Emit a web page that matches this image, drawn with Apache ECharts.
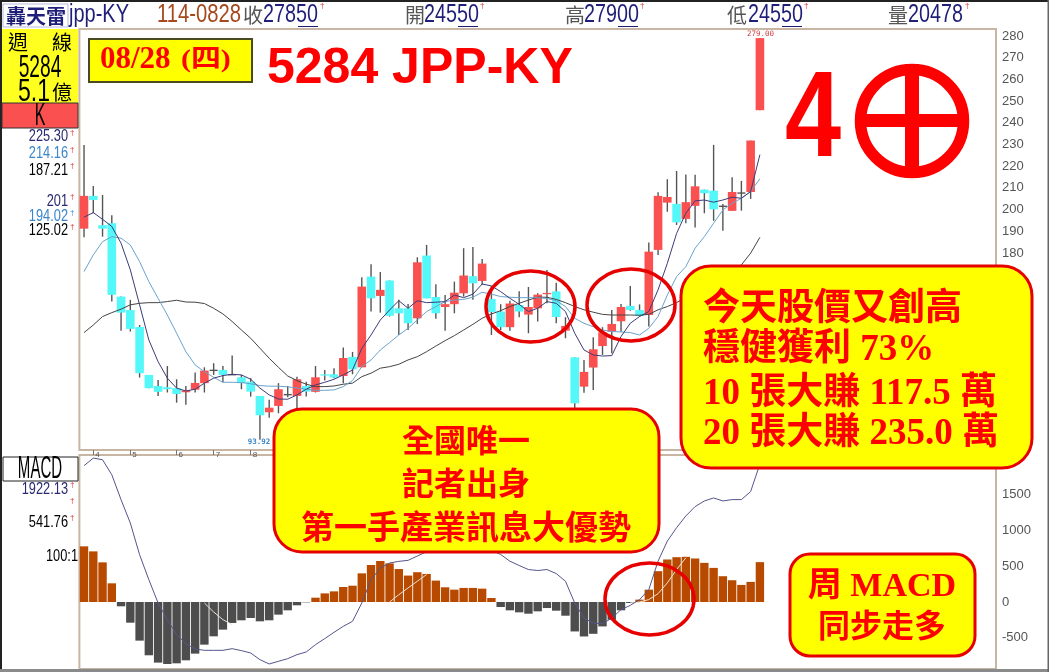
<!DOCTYPE html>
<html><head><meta charset="utf-8">
<style>html,body{margin:0;padding:0;background:#fff}#c{width:1050px;height:672px}</style>
<script src="https://cdn.jsdelivr.net/npm/echarts@6/dist/echarts.min.js"></script>
</head><body><div id="c"></div>
<script>
const slots = 99;
const monthTicks = {1:'4',5:'5',10:'6',14:'7',18:'8'};
const priceTicks = [180,190,200,210,220,230,240,250,260,270,280];
const macdTicks = [-500,0,500,1000,1500];
const opens = [191.2,206.3,192.8,193.7,159.9,153.7,145.9,123.8,118.7,118.1,117.7,115.8,117.0,120.0,125.8,126.1,124.0,122.7,120.7,114.1,106.6,109.5,114.6,114.1,118.7,116.0,124.1,124.1,123.3,132.1,127.3,169.1,160.2,167.3,154.5,154.5,149.9,178.8,159.7,155.1,156.4,161.4,169.3,167.1,158.8,153.0,145.8,156.0,151.6,154.5,161.0,162.3,144.2,131.9,118.4,127.2,137.1,143.7,148.5,155.6,153.7,151.4,181.4,203.2,202.6,195.7,201.7,209.2,208.7,201.4,199.4,207.5,208.1,245.8];
const closes = [206.3,204.4,191.2,160.7,152.5,145.0,124.6,117.7,116.0,117.2,115.0,116.7,120.1,125.8,125.9,123.8,123.9,120.0,116.1,105.2,108.7,117.2,114.7,121.8,116.1,122.7,123.5,122.6,131.6,126.4,164.5,159.1,163.0,151.0,152.2,147.6,175.7,159.1,152.2,156.4,161.7,169.6,166.0,175.1,152.8,145.8,156.7,153.0,155.1,160.8,161.6,150.5,146.4,110.7,125.2,135.6,143.4,147.3,155.1,153.7,151.0,180.6,206.3,205.8,194.1,203.4,210.7,207.5,200.1,201.5,208.1,207.6,231.8,279.0];
const highs = [229.8,210.9,206.7,197.4,159.9,158.4,146.8,123.8,121.5,127.9,121.8,118.7,124.9,127.3,129.2,127.9,132.7,123.8,122.3,114.1,112.3,120.0,118.7,123.0,120.7,127.9,126.1,126.9,136.4,134.4,168.8,174.8,171.2,167.3,158.4,156.5,178.0,183.7,165.6,160.6,166.8,182.2,182.8,177.2,164.8,156.4,158.0,162.3,164.3,161.4,172.2,166.3,150.4,131.9,130.7,141.1,145.8,153.7,156.5,164.8,156.3,184.8,208.0,214.0,217.8,216.1,216.0,209.2,229.8,202.6,214.9,213.2,231.8,279.0];
const lows = [187.2,198.3,187.5,157.6,144.2,143.8,122.6,117.7,114.1,115.7,111.0,110.1,115.7,115.7,123.8,120.4,123.8,117.2,113.8,93.92,104.1,106.1,113.5,108.4,113.8,115.7,121.2,122.3,120.0,124.1,127.3,153.0,152.5,150.7,142.2,144.5,147.3,159.1,149.7,144.2,152.2,159.9,158.4,165.3,142.2,144.5,144.1,150.4,143.0,148.4,156.8,147.6,140.7,108.4,115.6,116.9,133.0,133.8,143.7,153.4,150.7,146.1,179.1,199.0,192.9,193.7,191.7,198.3,194.8,190.2,199.4,199.5,204.9,245.8];
const maFast = [196.5,198.6,195.5,192.2,184.5,172.2,156.1,139.9,129.9,122.3,117.7,116.4,117.2,120.0,122.3,123.5,124.1,123.8,121.8,117.7,114.6,112.7,112.6,114.6,117.2,119.2,120.4,121.8,123.8,126.1,136.0,142.2,149.1,153.7,158.0,154.5,158.0,157.1,157.3,157.6,160.6,159.4,161.0,165.7,164.8,162.2,159.1,156.3,153.0,154.5,157.6,156.8,153.0,143.0,135.3,133.0,132.5,132.7,141.5,147.6,150.7,153.0,163.0,175.2,189.0,198.3,204.0,204.4,203.4,204.4,205.7,205.2,208.3,225.3];
const maMid = [171.4,179.1,185.2,187.5,186.8,183.7,176.0,166.8,159.1,151.4,143.0,134.5,128.4,125.3,122.7,120.4,120.4,120.3,119.7,118.9,118.6,118.6,118.3,117.8,117.2,116.7,116.7,116.9,118.4,121.2,127.6,130.7,135.3,138.7,142.2,145.3,149.1,153.0,155.3,157.6,158.3,158.6,159.6,161.9,161.0,159.9,159.6,159.4,159.4,159.4,159.0,158.0,155.3,149.9,147.6,146.0,144.5,143.8,143.6,143.3,142.2,145.3,150.7,160.6,169.1,173.7,182.2,187.5,193.7,199.8,202.9,205.2,208.3,214.16];
const maSlow = [143.3,146.8,150.7,152.5,154.1,156.1,156.8,157.1,157.1,157.6,158.2,157.4,157.3,156.7,154.5,151.9,148.4,144.5,140.7,136.1,131.5,127.3,123.3,121.2,119.5,118.4,118.4,118.7,119.5,120.0,123.0,124.6,126.9,127.6,128.7,130.7,132.2,134.5,137.1,139.6,141.9,144.5,147.1,149.9,151.9,153.4,155.3,156.8,158.3,159.6,159.6,158.6,157.1,155.3,153.8,152.7,151.7,151.4,151.4,151.4,151.3,151.7,153.8,155.3,157.1,159.5,162.0,164.5,167.0,169.5,172.0,174.5,179.9,187.21];
const histogram = [775,705,552,260,-60,-288,-538,-742,-844,-863,-854,-812,-719,-594,-478,-385,-292,-255,-223,-269,-255,-176,-116,-46,-5,60,120,148,209,227,399,515,571,538,459,368,415,391,298,205,172,196,196,186,56,-70,-116,-144,-163,-130,-84,-121,-191,-410,-480,-443,-340,-247,-116,-14,33,172,429,592,624,629,606,545,475,359,303,238,280,555];
const macdLine = [1898,2004,1981,1772,1424,1100,659,311,-14,-246,-455,-580,-654,-673,-673,-673,-650,-677,-710,-803,-863,-826,-789,-733,-696,-594,-510,-422,-339,-269,-14,311,473,543,566,580,640,700,760,780,760,780,790,760,720,662,568,508,452,438,452,396,289,-14,-224,-294,-303,-224,-107,-47,33,172,568,848,1035,1198,1328,1407,1449,1407,1426,1426,1538,1922.13];
const signalLine = [null,null,null,null,null,null,null,null,null,null,null,null,null,-14,-139,-246,-315,null,null,null,null,null,null,null,null,null,null,null,null,null,null,null,null,0,102,196,289,382,null,null,null,null,null,null,null,null,null,null,null,null,null,null,null,null,null,null,null,null,null,-14,0,33,116,266,452,615,null,null,null,null,null,null,null,null];
const categories = Array.from({length: slots}, (_, i) => String(i));

const RED='#ff0000', NAVY='#1f1f7a', SANS='"Liberation Sans",sans-serif', CJK='"Noto Sans CJK TC",sans-serif', MIX='"Liberation Serif","Noto Sans CJK TC",serif';

function T(x,y,text,o={}){
  return {type:'text',x,y,z:o.z||60,silent:true,scaleX:o.sx||1,style:{text,fill:o.c||'#000',font:(o.w||'normal')+' '+(o.s||14)+'px '+(o.f||SANS),textAlign:o.a||'left',textVerticalAlign:'middle'}};
}
function box(x,y,w,h,fill,stroke,lw,r,z){
  return {type:'rect',z:z||50,silent:true,shape:{x,y,width:w,height:h,r:r||0},style:{fill,stroke:stroke||null,lineWidth:lw||0}};
}
function ell(x0,x1,y0,y1){
  return {type:'ellipse',z:45,silent:true,shape:{cx:(x0+x1)/2,cy:(y0+y1)/2,rx:(x1-x0)/2,ry:(y1-y0)/2},style:{fill:null,stroke:'#e60000',lineWidth:3.5}};
}
const dagger=(x,y,c)=>T(x,y,'†',{c:c||'#e03030',s:8});
const big={s:25,sx:0.79,c:NAVY};
const label=(y,t,c)=>T(68,y,t,{c:c||'#000',s:16,sx:0.8,a:'right'});

const graphics = [
  box(0,0,1049,2,'#222'), box(0,0,2,672,'#222'), box(0,669,1049,3,'#8a8a8a',null,0,0,70),
  box(1047.5,0,1.5,672,'#666',null,0,0,70),
  // header
  box(3,4,65,23,'#fff','#b9b9e0',1),
  T(6,16,'轟天雷',{c:NAVY,s:20,f:CJK,w:'bold'}),
  T(69,15,'jpp-KY',{...big,sx:0.8}),
  T(157,15,'114-0828',{...big,c:'#a5481c',sx:0.81}),
  T(243,15,'收',{c:'#555',s:20,f:CJK}),
  T(263,15,'27850',big), box(298,26,20,1,NAVY), dagger(320,6),
  T(405,15,'開',{c:'#555',s:20,f:CJK}),
  T(424,15,'24550',big), box(458,26,20,1,NAVY), dagger(480,6),
  T(565,15,'高',{c:'#555',s:20,f:CJK}),
  T(584,15,'27900',big), box(618,26,20,1,NAVY), dagger(640,6),
  T(727,15,'低',{c:'#555',s:20,f:CJK}),
  T(748,15,'24550',big), box(782,26,20,1,NAVY), dagger(804,6),
  T(888,15,'量',{c:'#555',s:20,f:CJK}),
  T(908,15,'20478',big), dagger(965,6),
  // left panel
  box(2,29,76,74,'#ffff20'),
  T(8,42,'週',{s:20,f:CJK}), T(52,42,'線',{s:20,f:CJK}),
  T(40,68,'5284',{s:32,sx:0.6,a:'center'}),
  T(18,92,'5.1',{s:32,sx:0.72}), T(52,92,'億',{s:20,f:CJK}),
  box(2,103,76,25,'#fa5050','#333',1),
  T(40,116,'K',{s:32,sx:0.5,a:'center'}),
  label(137,'225.30','#2a2a72'), dagger(70,133),
  label(154,'214.16','#3a86c8'), dagger(70,150),
  label(171,'187.21'), dagger(70,166),
  label(202,'201','#2a2a72'), dagger(70,197),
  label(217,'194.02','#3a86c8'), dagger(70,213,'#3a86c8'),
  label(231,'125.02'), dagger(70,227),
  box(3,457,75,24,'#fff','#222',1),
  T(40,469,'MACD',{s:32,sx:0.47,a:'center'}),
  label(490,'1922.13','#2a2a72'), dagger(70,485),
  dagger(70,501),
  label(523,'541.76'), dagger(70,518),
  T(78,557,'100:1',{s:16,sx:0.8,a:'right'}),
  // date tag + title
  box(89,39,163,43,'#ffff00','#4a4a20',2),
  T(100,60,'08/28',{c:RED,s:31,f:MIX,w:'bold'}),
  T(181,60,'(四)',{c:RED,s:26,f:MIX,w:'bold',sx:1.15}),
  T(267,69,'5284 JPP-KY',{c:RED,s:50,w:'bold'}),
  T(785,122,'4',{c:RED,s:123,w:'bold',sx:0.82}),
  // stamp
  {type:'circle',z:50,silent:true,shape:{cx:912,cy:121,r:51.5},style:{fill:null,stroke:RED,lineWidth:11.5}},
  box(905,64,14,114,RED), box(857,114,110,13,RED),
  // price extremes
  T(760.5,34,'279.00',{c:'#d04040',s:7.5,f:'"DejaVu Sans Mono",monospace',a:'center'}),
  T(259,442,'93.92',{c:'#3a86c8',s:7.5,f:'"DejaVu Sans Mono",monospace',a:'center',w:'bold'}),
  // circles
  ell(486,575,271,342), ell(587,675,269,341), ell(605,694,563,635),
  // callout A
  box(274,409,385,143,'#ffff00','#e60000',3,28),
  T(466,440,'全國唯一',{c:RED,s:32,f:CJK,w:'bold',a:'center'}),
  T(466,483,'記者出身',{c:RED,s:32,f:CJK,w:'bold',a:'center'}),
  T(466,526,'第一手產業訊息大優勢',{c:RED,s:33,f:CJK,w:'bold',a:'center'}),
  // callout B
  box(681,266,351,202,'#ffff00','#e60000',3,30),
  T(703,306,'今天股價又創高',{c:RED,s:37,f:CJK,w:'bold'}),
  T(703,350,'穩健獲利 73%',{c:RED,s:37,f:MIX,w:'bold'}),
  T(703,394,'10 張大賺 117.5 萬',{c:RED,s:37,f:MIX,w:'bold'}),
  T(703,434,'20 張大賺 235.0 萬',{c:RED,s:37,f:MIX,w:'bold'}),
  // callout C
  box(790,554,185,102,'#ffff00','#e60000',3,20),
  T(882,587,'周 MACD',{c:RED,s:34,f:MIX,w:'bold',a:'center'}),
  T(882,625,'同步走多',{c:RED,s:32,f:CJK,w:'bold',a:'center'})
];

function candle(params, api){
  const i=api.value(0), o=api.value(1), c=api.value(2), l=api.value(3), h=api.value(4);
  const x=api.coord([i,o])[0];
  const yo=api.coord([i,o])[1], yc=api.coord([i,c])[1], yl=api.coord([i,l])[1], yh=api.coord([i,h])[1];
  const wick='#555', kids=[];
  kids.push({type:'line',shape:{x1:x,y1:yh,x2:x,y2:yl},style:{stroke:wick,lineWidth:1.4}});
  if(Math.abs(o-c)<0.3){
    kids.push({type:'line',shape:{x1:x-4,y1:yc,x2:x+4,y2:yc},style:{stroke:wick,lineWidth:1.4}});
  } else {
    kids.push({type:'rect',shape:{x:x-4.3,y:Math.min(yo,yc),width:8.6,height:Math.abs(yo-yc)},style:{fill:c>=o?'#fa5050':'#55f8f8'}});
  }
  return {type:'group',children:kids};
}

const chart = echarts.init(document.getElementById('c'),null,{renderer:'canvas'});
const axisText={color:'#555',fontFamily:SANS,fontSize:13};
chart.setOption({
  animation:false, backgroundColor:'#fff',
  grid:[
    {left:79.4,right:54,top:29,bottom:222,show:true,borderColor:'#c9b5a3',borderWidth:2,backgroundColor:'#fff'},
    {left:79.4,right:54,top:455,bottom:3,show:true,borderColor:'#c9b5a3',borderWidth:2,backgroundColor:'#fff'}
  ],
  xAxis:[
    {type:'category',gridIndex:0,data:categories,boundaryGap:true,
      axisLine:{show:false},
      axisTick:{show:true,alignWithLabel:true,length:5,lineStyle:{color:'#777'},interval:(i)=>monthTicks[i]!==undefined},
      axisLabel:{show:true,interval:0,margin:1,fontSize:8,color:'#555',align:'left',padding:[0,0,0,2],formatter:(v)=>monthTicks[v]||''}},
    {type:'category',gridIndex:1,data:categories,boundaryGap:true,axisLine:{show:false},axisTick:{show:false},axisLabel:{show:false}}
  ],
  yAxis:[
    {type:'value',gridIndex:0,position:'right',min:89.2,max:283.2,splitLine:{show:false},axisLine:{show:false},axisTick:{show:false},
      axisLabel:{...axisText,margin:6,customValues:priceTicks}},
    {type:'value',gridIndex:1,position:'right',min:-933,max:2047,splitLine:{show:false},axisLine:{show:false},axisTick:{show:false},
      axisLabel:{...axisText,margin:6,customValues:macdTicks,formatter:(v)=>String(v)}}
  ],
  graphic:{elements:graphics},
  series:[
    {type:'custom',xAxisIndex:0,yAxisIndex:0,renderItem:candle,encode:{x:0,y:[1,2,3,4]},z:3,silent:true,
      data:opens.map((o,i)=>[i,o,closes[i],lows[i],highs[i]])},
    {type:'line',xAxisIndex:0,yAxisIndex:0,data:maSlow,showSymbol:false,lineStyle:{color:'#444',width:1},z:4,silent:true},
    {type:'line',xAxisIndex:0,yAxisIndex:0,data:maMid,showSymbol:false,lineStyle:{color:'#6aa3cc',width:1},z:4,silent:true},
    {type:'line',xAxisIndex:0,yAxisIndex:0,data:maFast,showSymbol:false,lineStyle:{color:'#3c3c78',width:1},z:5,silent:true},
    {type:'bar',xAxisIndex:1,yAxisIndex:1,data:histogram.map(v=>({value:v,itemStyle:{color:v>=0?'#b84a00':'#4d4d4d'}})),barWidth:8.4,z:3,silent:true},
    {type:'line',xAxisIndex:1,yAxisIndex:1,data:signalLine,showSymbol:false,connectNulls:false,lineStyle:{color:'#eee4da',width:1},z:4,silent:true},
    {type:'line',xAxisIndex:1,yAxisIndex:1,data:macdLine,showSymbol:false,lineStyle:{color:'#55558c',width:1},z:5,silent:true}
  ]
});
</script></body></html>
